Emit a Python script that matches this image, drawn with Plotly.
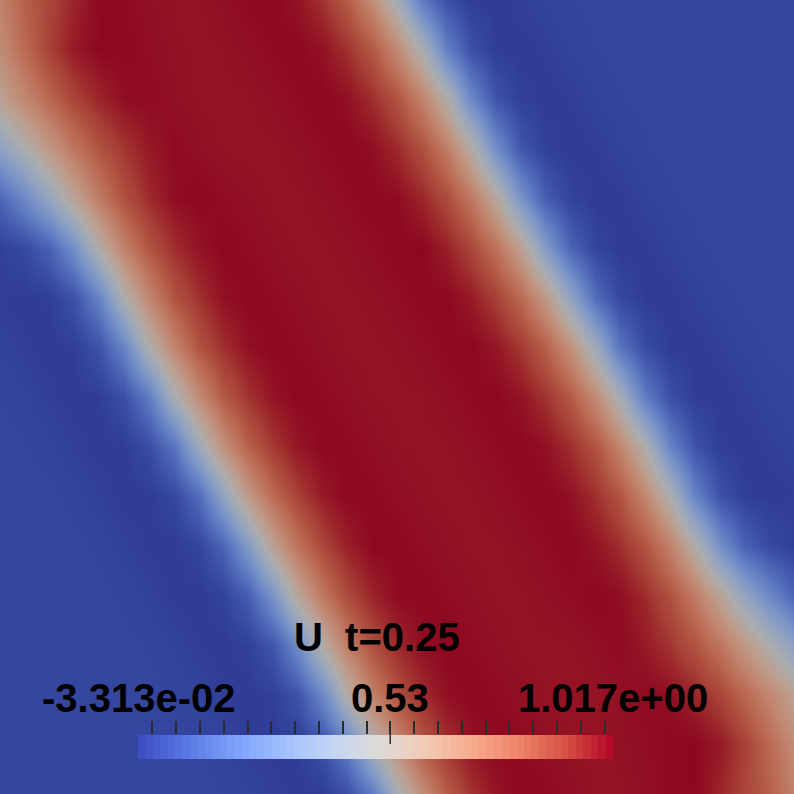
import numpy as np
import plotly.graph_objects as go

# field U at t=0.25 sampled on a 33 x 17 grid
# columns run left -> right, rows run top -> bottom of the view
x_nodes = [i / 32 for i in range(33)]
y_nodes = [i / 16 for i in range(17)]

u_rows = [
    [0.72, 0.83, 0.90, 0.96, 1.01, 1.005, 0.996, 0.99, 0.99, 0.997, 1.005, 1.01, 0.989, 0.934, 0.84, 0.674, 0.452,
     0.172, 0.025, -0.026, -0.03, -0.021, -0.01, -0.003, 0.0, 0.0, 0.0, 0.0, 0.0, 0.0, 0.0, 0.0, 0.0],
    [0.68, 0.80, 0.911, 0.979, 1.01, 1.007, 0.999, 0.993, 0.99, 0.991, 0.997, 1.004, 1.01, 0.993, 0.939, 0.853, 0.692,
     0.48, 0.194, 0.032, -0.025, -0.03, -0.023, -0.011, -0.003, 0.0, 0.0, 0.0, 0.0, 0.0, 0.0, 0.0, 0.0],
    [0.58, 0.70, 0.81, 0.90, 0.96, 1.0, 1.005, 0.995, 0.99, 0.99, 0.99, 0.996, 1.003, 1.01, 0.997, 0.947, 0.867,
     0.718, 0.511, 0.226, 0.042, -0.02, -0.031, -0.024, -0.012, -0.004, 0.0, 0.0, 0.0, 0.0, 0.0, 0.0, 0.0],
    [0.35, 0.49, 0.63, 0.76, 0.86, 0.93, 0.98, 1.005, 0.996, 0.99, 0.99, 0.99, 0.995, 1.002, 1.01, 1.0, 0.953,
     0.875, 0.735, 0.53, 0.247, 0.05, -0.017, -0.031, -0.025, -0.013, -0.004, 0.0, 0.0, 0.0, 0.0, 0.0, 0.0],
    [0.10, 0.23, 0.39, 0.57, 0.74, 0.87, 0.95, 1.0, 1.01, 1.001, 0.995, 0.99, 0.99, 0.995, 1.001, 1.009, 1.005,
     0.96, 0.886, 0.756, 0.557, 0.279, 0.071, -0.011, -0.031, -0.027, -0.015, -0.005, 0.0, 0.0, 0.0, 0.0, 0.0],
    [-0.02, 0.01, 0.09, 0.26, 0.51, 0.72, 0.86, 0.945, 0.99, 1.01, 1.002, 0.995, 0.99, 0.99, 0.994, 1.0, 1.008,
     1.01, 0.969, 0.897, 0.774, 0.584, 0.314, 0.092, -0.006, -0.03, -0.028, -0.016, -0.005, 0.0, 0.0, 0.0, 0.0],
    [-0.025, -0.031, -0.021, 0.035, 0.205, 0.49, 0.70, 0.86, 0.94, 0.995, 1.01, 1.003, 0.996, 0.99, 0.99, 0.993, 0.999,
     1.007, 1.01, 0.979, 0.911, 0.799, 0.621, 0.367, 0.12, 0.002, -0.029, -0.03, -0.018, -0.007, 0.0, 0.0, 0.0],
    [-0.012, -0.023, -0.031, -0.023, 0.038, 0.211, 0.498, 0.706, 0.862, 0.943, 0.995, 1.01, 1.003, 0.996, 0.99, 0.99, 0.992,
     0.998, 1.006, 1.01, 0.986, 0.926, 0.825, 0.654, 0.42, 0.148, 0.016, -0.027, -0.03, -0.02, -0.009, -0.002, 0.0],
    [-0.003, -0.01, -0.022, -0.031, -0.026, 0.027, 0.179, 0.461, 0.68, 0.844, 0.935, 0.99, 1.01, 1.004, 0.997, 0.991, 0.99,
     0.991, 0.997, 1.004, 1.01, 0.99, 0.935, 0.844, 0.68, 0.461, 0.179, 0.027, -0.026, -0.031, -0.022, -0.01, -0.003],
    [0.0, -0.002, -0.009, -0.02, -0.03, -0.027, 0.016, 0.148, 0.42, 0.654, 0.825, 0.926, 0.986, 1.01, 1.006, 0.998, 0.992,
     0.99, 0.99, 0.996, 1.003, 1.01, 0.995, 0.943, 0.862, 0.706, 0.498, 0.211, 0.038, -0.023, -0.031, -0.023, -0.012],
    [0.0, 0.0, 0.0, -0.007, -0.018, -0.03, -0.029, 0.002, 0.12, 0.367, 0.621, 0.799, 0.911, 0.979, 1.01, 1.007, 0.999,
     0.993, 0.99, 0.99, 0.996, 1.003, 1.01, 0.995, 0.94, 0.86, 0.70, 0.49, 0.205, 0.035, -0.021, -0.031, -0.025],
    [0.0, 0.0, 0.0, 0.0, -0.005, -0.016, -0.028, -0.03, -0.006, 0.092, 0.314, 0.584, 0.774, 0.897, 0.969, 1.01, 1.008,
     1.0, 0.994, 0.99, 0.99, 0.995, 1.002, 1.01, 0.99, 0.945, 0.86, 0.72, 0.51, 0.26, 0.09, 0.01, -0.02],
    [0.0, 0.0, 0.0, 0.0, 0.0, -0.005, -0.015, -0.027, -0.031, -0.011, 0.071, 0.279, 0.557, 0.756, 0.886, 0.96, 1.005,
     1.009, 1.001, 0.995, 0.99, 0.99, 0.995, 1.001, 1.01, 1.0, 0.95, 0.87, 0.74, 0.57, 0.39, 0.23, 0.10],
    [0.0, 0.0, 0.0, 0.0, 0.0, 0.0, -0.004, -0.013, -0.025, -0.031, -0.017, 0.05, 0.247, 0.53, 0.735, 0.875, 0.953,
     1.0, 1.01, 1.002, 0.995, 0.99, 0.99, 0.99, 0.996, 1.005, 0.98, 0.93, 0.86, 0.76, 0.63, 0.49, 0.35],
    [0.0, 0.0, 0.0, 0.0, 0.0, 0.0, 0.0, -0.004, -0.012, -0.024, -0.031, -0.02, 0.042, 0.226, 0.511, 0.718, 0.867,
     0.947, 0.997, 1.01, 1.003, 0.996, 0.99, 0.99, 0.99, 0.995, 1.005, 1.0, 0.96, 0.90, 0.81, 0.70, 0.58],
    [0.0, 0.0, 0.0, 0.0, 0.0, 0.0, 0.0, 0.0, -0.003, -0.011, -0.023, -0.03, -0.025, 0.032, 0.194, 0.48, 0.692,
     0.853, 0.939, 0.993, 1.01, 1.004, 0.997, 0.991, 0.99, 0.993, 0.999, 1.007, 1.01, 0.979, 0.911, 0.80, 0.68],
    [0.0, 0.0, 0.0, 0.0, 0.0, 0.0, 0.0, 0.0, 0.0, -0.003, -0.01, -0.021, -0.03, -0.026, 0.025, 0.172, 0.452,
     0.674, 0.84, 0.934, 0.989, 1.01, 1.005, 0.997, 0.99, 0.99, 0.996, 1.005, 1.01, 0.96, 0.90, 0.83, 0.72],
]

u_min = -3.313e-02
u_max = 1.017e+00
u_mid = 0.5245
bar_labels = ["-3.313e-02", "0.53", "1.017e+00"]
bar_title = "U\u00a0\u00a0t=0.25"
n_bands = 64

# cool to warm
cool_warm = [
    (0.0, (59, 76, 192)), (0.1, (89, 119, 227)), (0.2, (123, 159, 249)),
    (0.3, (158, 190, 255)), (0.4, (192, 212, 245)), (0.5, (221, 220, 220)),
    (0.6, (242, 203, 183)), (0.7, (247, 172, 142)), (0.8, (238, 132, 104)),
    (0.9, (214, 82, 68)), (1.0, (180, 4, 38)),
]


def scale(shade):
    return [[p, "rgb(%d,%d,%d)" % tuple(round(c * shade) for c in rgb)] for p, rgb in cool_warm]


fig = go.Figure()

# the lit surface is darker than the lookup table
fig.add_trace(go.Heatmap(
    x=x_nodes, y=y_nodes, z=u_rows,
    zmin=u_min, zmax=u_max, zsmooth="best",
    colorscale=scale(0.78), showscale=False, hoverinfo="skip",
))

# scalar bar drawn as a banded strip on its own axes
band_w = (u_max - u_min) / n_bands
band_x = [u_min + band_w * (i + 0.5) for i in range(n_bands)]
fig.add_trace(go.Heatmap(
    x=band_x, y=[0], z=[band_x],
    zmin=u_min, zmax=u_max, zsmooth=False,
    colorscale=scale(1.0), showscale=False, hoverinfo="skip",
    xaxis="x2", yaxis="y2",
))

W = 794.0
bar_x0, bar_x1 = 138 / W, 613 / W
bar_y0, bar_y1 = 1 - 759 / W, 1 - 735 / W
tick_vals = list(np.linspace(-0.0015, 0.9983, 20))

fig.update_layout(
    width=794, height=794,
    margin=dict(l=0, r=0, t=0, b=0),
    paper_bgcolor="white", plot_bgcolor="white",
    showlegend=False,
    xaxis=dict(domain=[0, 1], range=[0, 1], visible=False),
    yaxis=dict(domain=[0, 1], range=[1, 0], visible=False),
    xaxis2=dict(
        domain=[bar_x0, bar_x1], range=[u_min, u_max], anchor="y2",
        side="top", showgrid=False, zeroline=False, showline=False,
        ticks="outside", ticklen=13, tickwidth=1.5, tickcolor="#2b2b2b",
        tickvals=tick_vals, showticklabels=False,
    ),
    yaxis2=dict(domain=[bar_y0, bar_y1], range=[-0.5, 0.5], anchor="x2", visible=False),
)

# longer tick at the middle label
fig.add_shape(type="line", xref="x2", yref="paper",
              x0=u_mid, x1=u_mid, y0=1 - 744 / W, y1=1 - 722 / W,
              line=dict(color="#2b2b2b", width=1.5))

font = dict(family="Liberation Sans", size=40, color="black", weight="bold")
for txt, xc in zip(bar_labels, [u_min, u_mid, u_max]):
    fig.add_annotation(text=txt, x=xc, xref="x2", y=1 - 698 / W, yref="paper",
                       xanchor="center", yanchor="middle", showarrow=False, font=font)
fig.add_annotation(text=bar_title, x=377 / W, xref="paper", y=1 - 637 / W, yref="paper",
                   xanchor="center", yanchor="middle", showarrow=False, font=font)

fig.write_html("out.html", config={"displayModeBar": False},
               post_script="document.body.style.margin='0px';")
